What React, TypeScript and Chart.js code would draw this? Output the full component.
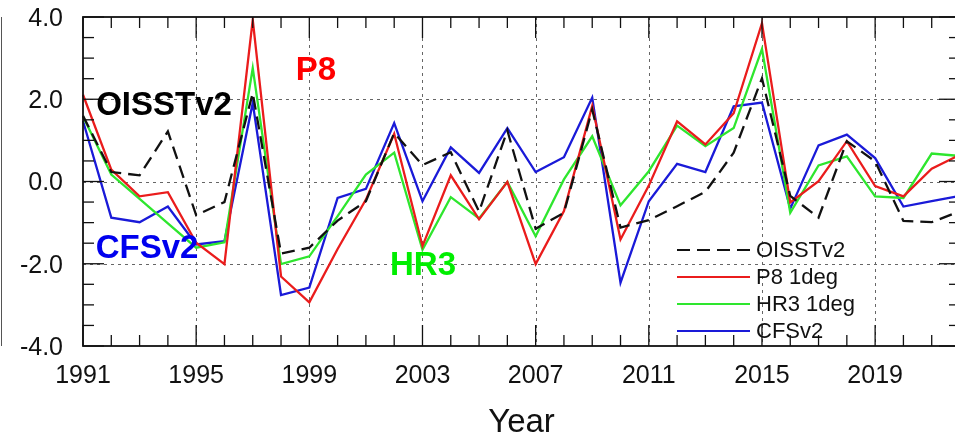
import React, { useEffect, useRef } from "react";
import { Chart, registerables } from "chart.js";

Chart.register(...registerables);

// ---------- data ----------
const years = [
  1991, 1992, 1993, 1994, 1995, 1996, 1997, 1998, 1999, 2000, 2001, 2002, 2003, 2004, 2005, 2006,
  2007, 2008, 2009, 2010, 2011, 2012, 2013, 2014, 2015, 2016, 2017, 2018, 2019, 2020, 2021, 2022,
];

const oisstv2 = [
  1.6, 0.23, 0.15, 1.22, -0.82, -0.5, 2.15, -1.75, -1.61, -0.95, -0.48, 1.18, 0.4, 0.71, -0.73, 1.24,
  -1.15, -0.76, 1.75, -1.12, -0.94, -0.6, -0.25, 0.7, 2.51, -0.35, -0.88, 0.98, 0.49, -0.96, -0.99, -0.72,
];

const p8 = [
  2.11, 0.29, -0.36, -0.26, -1.49, -2.01, 3.93, -2.31, -2.94, -1.64, -0.44, 1.16, -1.57, 0.15, -0.92, -0.01,
  -2.01, -0.72, 1.84, -1.41, -0.1, 1.46, 0.9, 1.66, 3.85, -0.51, 0.01, 0.98, -0.11, -0.36, 0.31, 0.65,
];

const hr3 = [
  1.58, 0.17, -0.42, -1.02, -1.61, -1.48, 2.76, -2.01, -1.82, -0.84, 0.17, 0.7, -1.66, -0.38, -0.9, -0.01,
  -1.33, 0.05, 1.1, -0.58, 0.25, 1.36, 0.86, 1.3, 3.22, -0.76, 0.39, 0.61, -0.36, -0.4, 0.68, 0.62,
];

const cfsv2 = [
  1.47, -0.88, -0.99, -0.61, -1.53, -1.45, 1.91, -2.76, -2.58, -0.4, -0.18, 1.42, -0.48, 0.83, 0.21, 1.3,
  0.23, 0.59, 2.04, -2.46, -0.48, 0.43, 0.23, 1.83, 1.92, -0.66, 0.88, 1.14, 0.57, -0.61, -0.48, -0.35,
];

const seriesNames = ["OISSTv2", "P8 1deg", "HR3 1deg", "CFSv2"];
const xLabelEvery = 4; // labelled years: 1991, 1995, ... 2019
const yMin = -4;
const yMax = 4;
const yMajorStep = 2;
const yMinorStep = 0.5;
const xTitle = "Year";

const annotations = [
  { text: "OISSTv2", color: "#000000", x: 164, y: 106 },
  { text: "P8", color: "#ff0000", x: 316, y: 71 },
  { text: "CFSv2", color: "#0000ee", x: 147, y: 249 },
  { text: "HR3", color: "#00ee00", x: 423, y: 266 },
];

const FONT = "'Liberation Sans', Arial, Helvetica, sans-serif";

function line(ctx: CanvasRenderingContext2D, x1: number, y1: number, x2: number, y2: number) {
  ctx.beginPath();
  ctx.moveTo(x1, y1);
  ctx.lineTo(x2, y2);
  ctx.stroke();
}

const framePlugin = {
  id: "ncarFrame",
  beforeDatasetsDraw(chart: any) {
    const { ctx, chartArea: a, scales } = chart;
    const xs = scales.x;
    const ys = scales.y;
    ctx.save();
    ctx.strokeStyle = "#666666";
    ctx.lineWidth = 1;
    ctx.setLineDash([3, 4]);
    years.forEach((yr, i) => {
      if (i > 0 && (yr - years[0]) % xLabelEvery === 0) {
        const px = Math.round(xs.getPixelForValue(i)) + 0.5;
        line(ctx, px, a.top, px, a.bottom);
      }
    });
    for (let v = yMin + yMajorStep; v < yMax; v += yMajorStep) {
      const py = Math.round(ys.getPixelForValue(v)) + 0.5;
      line(ctx, a.left, py, a.right, py);
    }
    ctx.restore();
  },
  afterDatasetsDraw(chart: any) {
    const { ctx, chartArea: a, scales } = chart;
    const xs = scales.x;
    const ys = scales.y;
    ctx.save();
    ctx.setLineDash([]);
    ctx.strokeStyle = "#111111";
    // frame
    ctx.lineWidth = 1.8;
    ctx.strokeRect(a.left, a.top, a.right - a.left, a.bottom - a.top);
    // x ticks (inward, top & bottom)
    ctx.lineWidth = 1.3;
    years.forEach((yr, i) => {
      const major = (yr - years[0]) % xLabelEvery === 0;
      const len = major ? 21 : 11;
      const px = xs.getPixelForValue(i);
      line(ctx, px, a.bottom, px, a.bottom - len);
      line(ctx, px, a.top, px, a.top + len);
    });
    // y ticks (inward, left & right)
    for (let v = yMin; v <= yMax + 1e-9; v += yMinorStep) {
      const major = Math.abs(v / yMajorStep - Math.round(v / yMajorStep)) < 1e-6;
      const len = major ? 21 : 11;
      const py = ys.getPixelForValue(v);
      line(ctx, a.left, py, a.left + len, py);
      line(ctx, a.right, py, a.right - len, py);
    }
    // annotations
    ctx.font = `bold 33px ${FONT}`;
    ctx.textAlign = "center";
    ctx.textBaseline = "middle";
    annotations.forEach((t) => {
      ctx.fillStyle = t.color;
      ctx.fillText(t.text, t.x, t.y);
    });
    // legend
    const lx1 = 677;
    const lx2 = 750;
    const rows = [250, 277, 304, 331];
    ctx.font = `22px ${FONT}`;
    ctx.textAlign = "left";
    chart.data.datasets.forEach((ds: any, i: number) => {
      ctx.save();
      ctx.strokeStyle = ds.borderColor;
      ctx.lineWidth = 2;
      ctx.setLineDash(ds.borderDash || []);
      line(ctx, lx1, rows[i], lx2, rows[i]);
      ctx.restore();
      ctx.fillStyle = "#111111";
      ctx.fillText(ds.label, lx2 + 6, rows[i] + 1);
    });
    // sliver of the neighbouring panel frame
    ctx.strokeStyle = "#555555";
    ctx.lineWidth = 1;
    line(ctx, 1.5, a.top, 1.5, a.bottom);
    ctx.restore();
  },
};

export default function App() {
  const ref = useRef<HTMLCanvasElement | null>(null);

  useEffect(() => {
    if (!ref.current) return;
    const chart = new Chart(ref.current, {
      type: "line",
      data: {
        labels: years.map(String),
        datasets: [
          { label: seriesNames[0], data: oisstv2, borderColor: "#111111", borderDash: [13, 7], borderWidth: 2.3 },
          { label: seriesNames[1], data: p8, borderColor: "#ea1c1c", borderWidth: 2.3 },
          { label: seriesNames[2], data: hr3, borderColor: "#2ee62e", borderWidth: 2.3 },
          { label: seriesNames[3], data: cfsv2, borderColor: "#1a1ad8", borderWidth: 2.3 },
        ],
      },
      options: {
        responsive: false,
        devicePixelRatio: 1,
        animation: false,
        layout: { padding: { left: 0, right: 30, top: 17, bottom: 0 } },
        elements: { point: { radius: 0 }, line: { tension: 0 } },
        plugins: { legend: { display: false }, tooltip: { enabled: false } },
        scales: {
          x: {
            type: "category",
            grid: { display: false, drawTicks: false },
            border: { display: false },
            ticks: {
              autoSkip: false,
              maxRotation: 0,
              minRotation: 0,
              padding: 15,
              color: "#111111",
              font: { family: FONT, size: 25 },
              callback: (_v: any, i: number) => ((years[i] - years[0]) % xLabelEvery === 0 ? String(years[i]) : ""),
            },
            title: {
              display: true,
              text: xTitle,
              color: "#111111",
              font: { family: FONT, size: 33, lineHeight: 1 },
              padding: { top: 0, bottom: 0 },
            },
            afterFit: (s: any) => {
              s.height = 93;
              s.paddingLeft = 0;
              s.paddingRight = 0;
            },
          },
          y: {
            min: yMin,
            max: yMax,
            grid: { display: false, drawTicks: false },
            border: { display: false },
            ticks: {
              stepSize: yMajorStep,
              padding: 20,
              labelOffset: 2,
              color: "#111111",
              font: { family: FONT, size: 25 },
              callback: (v: any) => Number(v).toFixed(1),
            },
            afterFit: (s: any) => {
              s.width = 83;
              s.paddingTop = 0;
              s.paddingBottom = 0;
            },
          },
        },
      },
      plugins: [framePlugin],
    });
    return () => chart.destroy();
  }, []);

  return (
    <div
      style={{
        position: "absolute",
        left: 0,
        top: 0,
        width: 955,
        height: 439,
        overflow: "hidden",
        background: "#ffffff",
      }}
    >
      <canvas ref={ref} width={990} height={439} style={{ display: "block", width: 990, height: 439 }} />
    </div>
  );
}
